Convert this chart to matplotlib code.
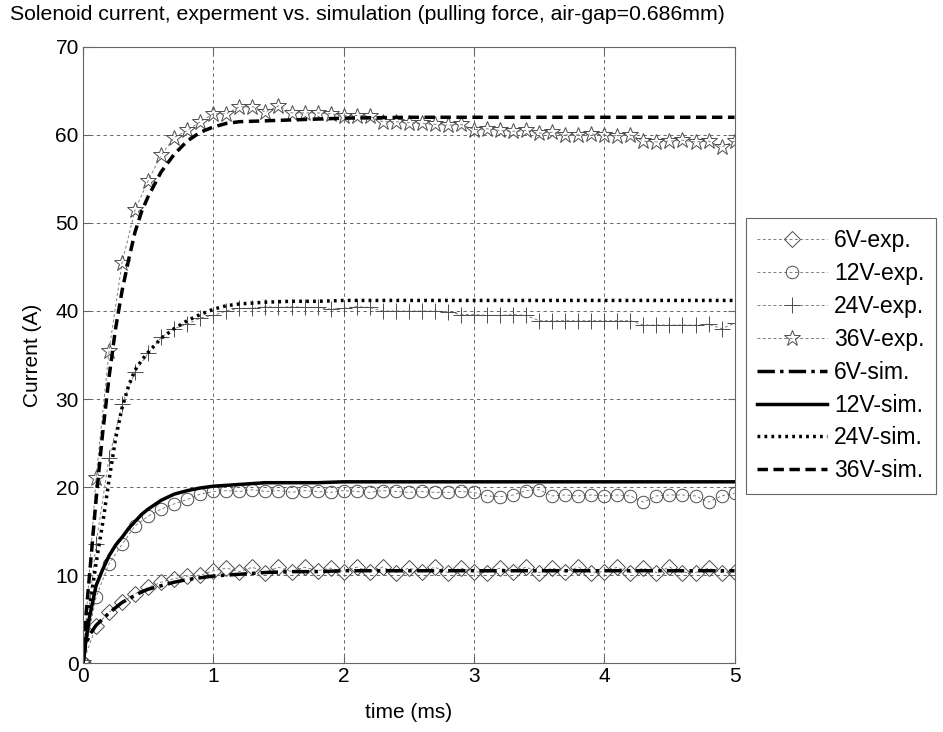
import matplotlib
matplotlib.use("Agg")
import matplotlib.pyplot as plt

plt.rcParams['font.family'] = ['Liberation Sans', 'DejaVu Sans']

# measured samples, every 0.1 ms
t_exp = [0.0, 0.1, 0.2, 0.3, 0.4, 0.5, 0.6, 0.7, 0.8, 0.9,
         1.0, 1.1, 1.2, 1.3, 1.4, 1.5, 1.6, 1.7, 1.8, 1.9,
         2.0, 2.1, 2.2, 2.3, 2.4, 2.5, 2.6, 2.7, 2.8, 2.9,
         3.0, 3.1, 3.2, 3.3, 3.4, 3.5, 3.6, 3.7, 3.8, 3.9,
         4.0, 4.1, 4.2, 4.3, 4.4, 4.5, 4.6, 4.7, 4.8, 4.9, 5.0]

exp_6v = [0, 4.2, 5.8, 6.9, 7.9, 8.6, 9.2, 9.6, 9.9, 10.0,
          10.5, 10.8, 10.4, 10.9, 10.3, 10.9, 10.4, 10.9, 10.5, 10.8,
          10.4, 10.9, 10.4, 10.9, 10.3, 10.8, 10.4, 10.9, 10.3, 10.8,
          10.4, 10.3, 10.8, 10.4, 10.9, 10.3, 10.8, 10.4, 10.9, 10.3,
          10.4, 10.9, 10.3, 10.8, 10.3, 10.9, 10.3, 10.3, 10.8, 10.3, 10.4]

exp_12v = [0, 7.5, 11.3, 13.5, 15.6, 16.7, 17.5, 18.1, 18.6, 19.2,
           19.5, 19.6, 19.5, 19.7, 19.5, 19.6, 19.4, 19.6, 19.5, 19.4,
           19.6, 19.5, 19.4, 19.6, 19.5, 19.4, 19.5, 19.4, 19.4, 19.5,
           19.4, 19.0, 18.9, 19.1, 19.6, 19.7, 19.0, 19.1, 19.0, 19.1,
           19.0, 19.1, 19.0, 18.3, 19.0, 19.1, 19.1, 19.0, 18.3, 19.0, 19.3]

exp_24v = [0, 13.5, 23.3, 29.4, 33.1, 35.2, 37.0, 38.0, 38.5, 39.2,
           39.5, 40.0, 40.3, 40.3, 40.5, 40.4, 40.5, 40.4, 40.4, 40.2,
           40.3, 40.5, 40.4, 40.0, 40.0, 40.0, 40.0, 40.0, 39.9, 39.6,
           39.6, 39.5, 39.5, 39.6, 39.5, 38.9, 38.9, 38.9, 38.9, 38.9,
           38.9, 38.9, 38.9, 38.4, 38.4, 38.4, 38.4, 38.4, 38.5, 38.0, 38.6]

exp_36v = [0, 21.0, 35.5, 45.5, 51.5, 54.8, 57.7, 59.7, 60.5, 61.5,
           62.4, 62.4, 63.2, 63.2, 62.6, 63.3, 62.5, 62.5, 62.5, 62.4,
           62.2, 62.2, 62.1, 61.5, 61.5, 61.4, 61.3, 61.2, 61.1, 61.2,
           60.6, 60.7, 60.5, 60.4, 60.5, 60.2, 60.3, 60.0, 60.0, 60.1,
           60.0, 59.9, 60.0, 59.3, 59.2, 59.3, 59.4, 59.2, 59.3, 58.6, 59.3]

# simulated curves
t_sim = [0, 0.02, 0.05, 0.1, 0.15, 0.2, 0.25, 0.3, 0.35, 0.4, 0.45, 0.5,
         0.6, 0.7, 0.8, 0.9, 1.0, 1.1, 1.2, 1.4, 1.6, 1.8, 2.0,
         2.5, 3.0, 3.5, 4.0, 4.5, 5.0]

sim_6v = [0, 2.0, 3.2, 4.3, 5.0, 5.7, 6.3, 6.9, 7.3, 7.7, 8.1, 8.4,
          8.8, 9.2, 9.5, 9.7, 9.9, 10.0, 10.1, 10.3, 10.4, 10.4, 10.5,
          10.5, 10.5, 10.5, 10.5, 10.5, 10.5]
sim_12v = [0, 2.3, 5.2, 8.8, 10.6, 12.2, 13.4, 14.3, 15.3, 16.1, 16.9, 17.5,
           18.5, 19.2, 19.6, 19.9, 20.1, 20.2, 20.3, 20.5, 20.5, 20.5, 20.6,
           20.6, 20.6, 20.6, 20.6, 20.6, 20.6]
sim_24v = [0, 2.3, 6.3, 11.3, 15.8, 20.8, 25.5, 29.0, 31.5, 33.3, 34.4, 35.3,
           36.9, 38.0, 38.9, 39.6, 40.2, 40.6, 40.8, 41.0, 41.1, 41.1, 41.2,
           41.2, 41.2, 41.2, 41.2, 41.2, 41.2]
sim_36v = [0, 5.0, 10.0, 18.5, 26.0, 32.5, 38.0, 42.3, 45.8, 49.0, 51.3, 53.0,
           55.8, 57.8, 59.3, 60.3, 60.9, 61.3, 61.5, 61.6, 61.7, 61.8, 61.9,
           62.0, 62.0, 62.0, 62.0, 62.0, 62.0]

fig = plt.figure(figsize=(9.43, 7.32), dpi=100)
ax = fig.add_axes([0.088, 0.094, 0.691, 0.842])

exp_style = dict(color='0.5', lw=0.7, ls=(0, (3, 2.5)), mfc='none', mec='0.3', mew=0.7)
h1, = ax.plot(t_exp, exp_6v, marker='D', ms=8, label='6V-exp.', **exp_style)
h2, = ax.plot(t_exp, exp_12v, marker='o', ms=9, label='12V-exp.', **exp_style)
h3, = ax.plot(t_exp, exp_24v, marker='+', ms=11, label='24V-exp.', **exp_style)
h4, = ax.plot(t_exp, exp_36v, marker='*', ms=12, label='36V-exp.', **exp_style)

h5, = ax.plot(t_sim, sim_6v, color='k', lw=2.5, ls=(0, (5, 1.5, 1, 1.5)), label='6V-sim.')
h6, = ax.plot(t_sim, sim_12v, color='k', lw=2.5, ls='-', label='12V-sim.')
h7, = ax.plot(t_sim, sim_24v, color='k', lw=2.5, ls=(0, (0.8, 1.2)), label='24V-sim.')
h8, = ax.plot(t_sim, sim_36v, color='k', lw=2.5, ls=(0, (3, 1.6)), label='36V-sim.')

ax.set_xlim(0, 5)
ax.set_ylim(0, 70)
ax.set_xticks([0, 1, 2, 3, 4, 5])
ax.set_yticks([0, 10, 20, 30, 40, 50, 60, 70])
ax.grid(True, color='0.3', lw=0.6, ls=(0, (4, 4)))
ax.tick_params(direction='in', top=True, right=True, length=5, width=0.8,
               color='0.4', labelsize=15, pad=3)
for s in ax.spines.values():
    s.set_color('0.4')
    s.set_linewidth(0.8)

ax.set_xlabel('time (ms)', fontsize=15, labelpad=12)
ax.set_ylabel('Current (A)', fontsize=15, labelpad=10)
fig.text(0.011, 0.98, 'Solenoid current, experment vs. simulation (pulling force, air-gap=0.686mm)',
         fontsize=15.3, ha='left', va='center')

leg = ax.legend(handles=[h1, h2, h3, h4, h5, h6, h7, h8], loc='upper left',
                bbox_to_anchor=(1.017, 0.7225), borderaxespad=0, fontsize=16.5,
                fancybox=False, framealpha=1, edgecolor='0.4',
                handlelength=3.05, handletextpad=0.3, labelspacing=0.43,
                borderpad=0.5)
leg.get_frame().set_linewidth(0.8)

fig.savefig('out.png', dpi=100)
